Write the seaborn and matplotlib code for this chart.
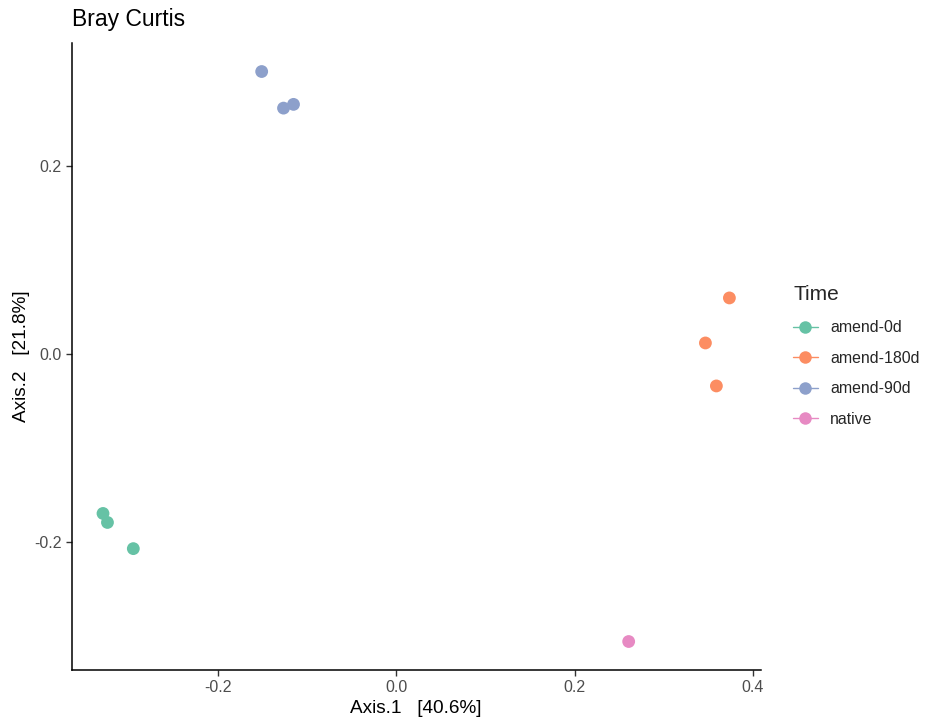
import matplotlib
matplotlib.use("Agg")
import matplotlib.pyplot as plt
from matplotlib.lines import Line2D
import seaborn as sns
import pandas as pd

# PCoA ordination scores (Bray-Curtis)
groups = ["amend-0d", "amend-180d", "amend-90d", "native"]
palette = ["#66c2a5", "#fc8d62", "#8da0cb", "#e78ac3"]

time_labels = ["amend-0d", "amend-0d", "amend-0d",
               "amend-180d", "amend-180d", "amend-180d",
               "amend-90d", "amend-90d", "amend-90d",
               "native"]
axis1 = [-0.329, -0.324, -0.295,
         0.3737, 0.3468, 0.3591,
         -0.151, -0.1265, -0.1153,
         0.2607]
axis2 = [-0.170, -0.1796, -0.2075,
         0.0597, 0.0117, -0.0341,
         0.301, 0.262, 0.266,
         -0.3065]

df = pd.DataFrame({"Axis.1": axis1, "Axis.2": axis2, "Time": time_labels})

sns.set_theme(style="white")
plt.rcParams["font.family"] = ["Liberation Sans", "DejaVu Sans"]

fig = plt.figure(figsize=(9.25, 7.22), dpi=100)
ax = fig.add_axes([0.0775, 0.072, 0.8224 - 0.0775, 0.9404 - 0.072])

sns.scatterplot(data=df, x="Axis.1", y="Axis.2", hue="Time",
                hue_order=groups, palette=palette, s=85,
                linewidth=0, legend=False, ax=ax)

# ggplot-style 5% expansion around the data
xmin, xmax = min(axis1), max(axis1)
ymin, ymax = min(axis2), max(axis2)
dx = (xmax - xmin) * 0.05
dy = (ymax - ymin) * 0.05
ax.set_xlim(xmin - dx, xmax + dx)
ax.set_ylim(ymin - dy, ymax + dy)

ax.set_xticks([-0.2, 0.0, 0.2, 0.4])
ax.set_xticklabels(["-0.2", "0.0", "0.2", "0.4"])
ax.set_yticks([-0.2, 0.0, 0.2])
ax.set_yticklabels(["-0.2", "0.0", "0.2"])

for side in ["top", "right"]:
    ax.spines[side].set_visible(False)
for side in ["left", "bottom"]:
    ax.spines[side].set_color("black")
    ax.spines[side].set_linewidth(1.1)

ax.tick_params(axis="both", which="major", length=4, width=1.0,
               color="#333333", labelcolor="#4d4d4d", labelsize=11.5,
               pad=3, bottom=True, left=True)

ax.set_xlabel("Axis.1   [40.6%]", fontsize=13.7, color="black", labelpad=4)
ax.set_ylabel("Axis.2   [21.8%]", fontsize=13.7, color="black", labelpad=3)
ax.set_title("Bray Curtis", loc="left", fontsize=16.5, color="black", pad=12)

handles = [Line2D([0], [0], color=c, marker="o", markersize=9,
                  linewidth=1.0, markeredgewidth=0) for c in palette]
leg = ax.legend(handles, groups, title="Time", loc="upper left",
                bbox_to_anchor=(0.8574, 0.6055), bbox_transform=fig.transFigure,
                frameon=False, fontsize=11.4, title_fontsize=15,
                handlelength=1.55, handletextpad=0.8, labelspacing=0.97,
                borderaxespad=0, borderpad=0)
leg._legend_box.align = "left"
leg._legend_box.sep = 12

fig.savefig("out.png", dpi=100)
